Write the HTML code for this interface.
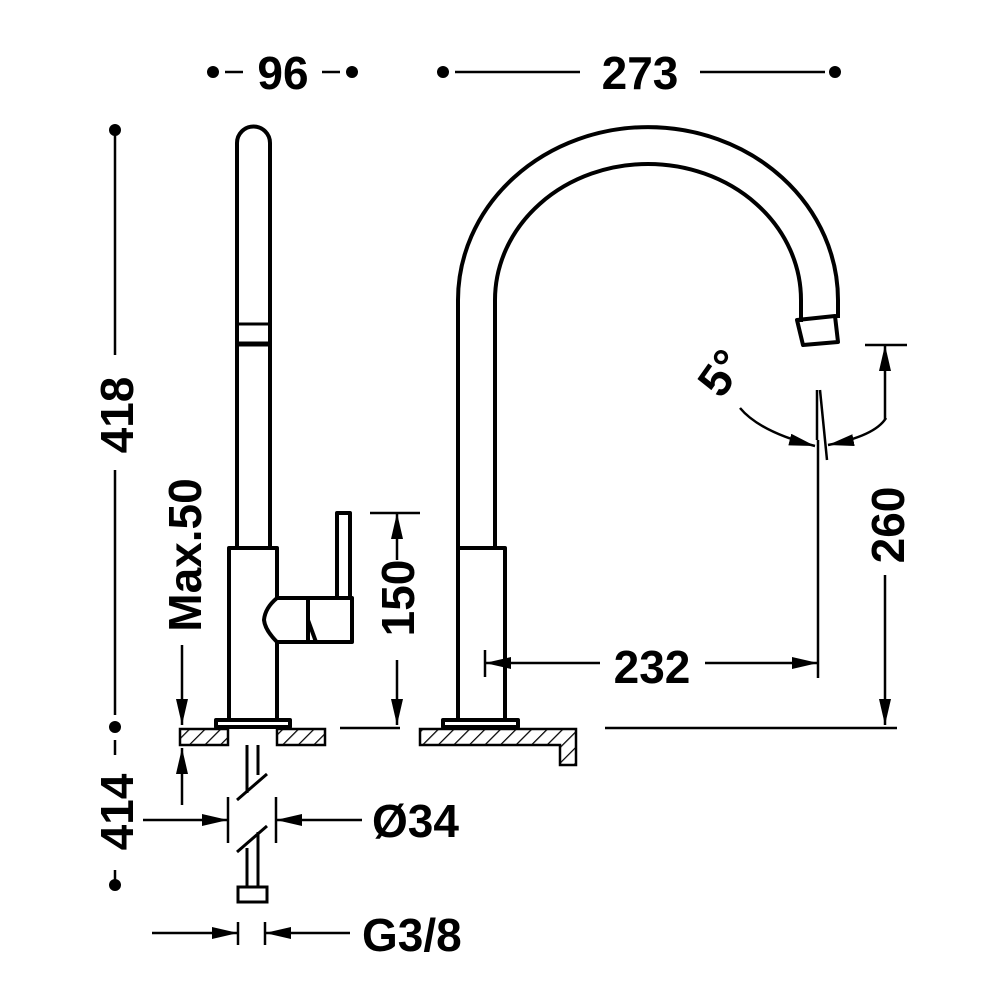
<!DOCTYPE html>
<html><head><style>html,body{margin:0;padding:0;background:#fff}svg{display:block}text{font-family:"Liberation Sans",Arial,sans-serif;font-weight:bold;font-size:46px;fill:#000}</style></head>
<body>
<svg width="1000" height="1000" viewBox="0 0 1000 1000" xmlns="http://www.w3.org/2000/svg">
<defs>
<marker id="a" viewBox="0 0 26 12" refX="26" refY="6" markerWidth="26" markerHeight="12" markerUnits="userSpaceOnUse" orient="auto" preserveAspectRatio="none"><path d="M0,0 L26,6 L0,12 Z" fill="#000"/></marker>
<pattern id="h" width="11" height="11" patternUnits="userSpaceOnUse" patternTransform="rotate(45)"><line x1="0" y1="0" x2="0" y2="11" stroke="#000" stroke-width="2.5"/></pattern>
</defs>
<g stroke="#000" stroke-width="4" fill="none" stroke-linejoin="round">
<path d="M237,548 V143 A16.5,16.5 0 0 1 270,143 V548"/>
<line x1="237" y1="324" x2="270" y2="324" stroke-width="3"/>
<line x1="237" y1="344" x2="270" y2="344" stroke-width="5"/>
<rect x="229" y="548" width="48" height="172" fill="#fff"/>
<path d="M277,598 H352 V642 H277 Q265,630 264,620 Q265,608 277,598 Z" fill="#fff"/>
<line x1="308" y1="598" x2="308" y2="642"/>
<path d="M308,620 L316,642"/>
<rect x="337" y="513" width="13" height="85" fill="#fff"/>
<rect x="216" y="720" width="74" height="7" fill="#fff"/>
<path d="M458,548 V300 A190,173 0 0 1 838,300 V318"/>
<path d="M495,548 V300 A153,136 0 0 1 801,300 V322"/>
<path d="M797,320 L835,316 L838,342 L803,345 Z"/>
<rect x="458" y="548" width="47" height="172" fill="#fff"/>
<rect x="443" y="720" width="75" height="7" fill="#fff"/>
</g>
<g stroke="#000" stroke-width="2.5">
<rect x="180" y="729" width="48" height="16" fill="url(#h)"/>
<rect x="277" y="729" width="48" height="16" fill="url(#h)"/>
<path d="M420,729 H576 V765 H560 V745 H420 Z" fill="url(#h)"/>
<line x1="340" y1="728" x2="400" y2="728"/>
<line x1="605" y1="728" x2="897" y2="728"/>
</g>
<g stroke="#000" stroke-width="3" fill="none">
<line x1="247" y1="745" x2="247" y2="793"/><line x1="258" y1="745" x2="258" y2="775"/>
<line x1="237" y1="800" x2="267" y2="774"/>
<line x1="237" y1="852" x2="267" y2="826"/>
<line x1="247" y1="848" x2="247" y2="887"/><line x1="258" y1="832" x2="258" y2="887"/>
<rect x="238" y="887" width="29" height="15" fill="#fff"/>
</g>
<g stroke="#000" stroke-width="2.5" fill="none">
<line x1="225" y1="72" x2="243" y2="72"/><line x1="322" y1="72" x2="340" y2="72"/>
<line x1="455" y1="72" x2="580" y2="72"/><line x1="700" y1="72" x2="825" y2="72"/>
<line x1="115" y1="130" x2="115" y2="355"/><line x1="115" y1="470" x2="115" y2="715"/>
<line x1="115" y1="740" x2="115" y2="755"/><line x1="115" y1="870" x2="115" y2="885"/>
<line x1="182" y1="645" x2="182" y2="725" marker-end="url(#a)"/>
<line x1="182" y1="805" x2="182" y2="748" marker-end="url(#a)"/>
<line x1="370" y1="513" x2="420" y2="513"/>
<line x1="397" y1="560" x2="397" y2="513" marker-end="url(#a)"/>
<line x1="397" y1="660" x2="397" y2="725" marker-end="url(#a)"/>
<line x1="865" y1="345" x2="907" y2="345"/>
<line x1="885" y1="420" x2="885" y2="345" marker-end="url(#a)"/>
<line x1="885" y1="575" x2="885" y2="725" marker-end="url(#a)"/>
<line x1="485" y1="650" x2="485" y2="677"/>
<line x1="600" y1="663" x2="485" y2="663" marker-end="url(#a)"/>
<line x1="705" y1="663" x2="818" y2="663" marker-end="url(#a)"/>
<line x1="818" y1="440" x2="818" y2="678"/>
<line x1="817" y1="390" x2="817" y2="440"/><line x1="820" y1="390" x2="827" y2="460"/>
<path d="M740,408 Q760,432 815,446" marker-end="url(#a)"/>
<path d="M886,418 Q875,436 828,445" marker-end="url(#a)"/>
<line x1="143" y1="820" x2="228" y2="820" marker-end="url(#a)"/>
<line x1="228" y1="797" x2="228" y2="843"/><line x1="276" y1="797" x2="276" y2="843"/>
<line x1="362" y1="820" x2="276" y2="820" marker-end="url(#a)"/>
<line x1="152" y1="933" x2="238" y2="933" marker-end="url(#a)"/>
<line x1="238" y1="922" x2="238" y2="945"/><line x1="265" y1="922" x2="265" y2="945"/>
<line x1="350" y1="933" x2="265" y2="933" marker-end="url(#a)"/>
</g>
<g fill="#000">
<circle cx="213" cy="72" r="6"/><circle cx="352" cy="72" r="6"/>
<circle cx="443" cy="72" r="6"/><circle cx="835" cy="72" r="6"/>
<circle cx="115" cy="130" r="6"/><circle cx="115" cy="727" r="6"/><circle cx="115" cy="885" r="6"/>
</g>
<text x="283" y="89" text-anchor="middle">96</text>
<text x="640" y="89" text-anchor="middle">273</text>
<text transform="translate(133,415) rotate(-90)" text-anchor="middle">418</text>
<text transform="translate(133,812) rotate(-90)" text-anchor="middle">414</text>
<text transform="translate(201,555) rotate(-90)" text-anchor="middle">Max.50</text>
<text transform="translate(414,598) rotate(-90)" text-anchor="middle">150</text>
<text transform="translate(904,525) rotate(-90)" text-anchor="middle">260</text>
<text x="652" y="683" text-anchor="middle">232</text>
<text transform="translate(734,382) rotate(-55)" text-anchor="middle">5°</text>
<text x="372" y="837">Ø34</text>
<text x="362" y="951">G3/8</text>
</svg>
</body></html>
